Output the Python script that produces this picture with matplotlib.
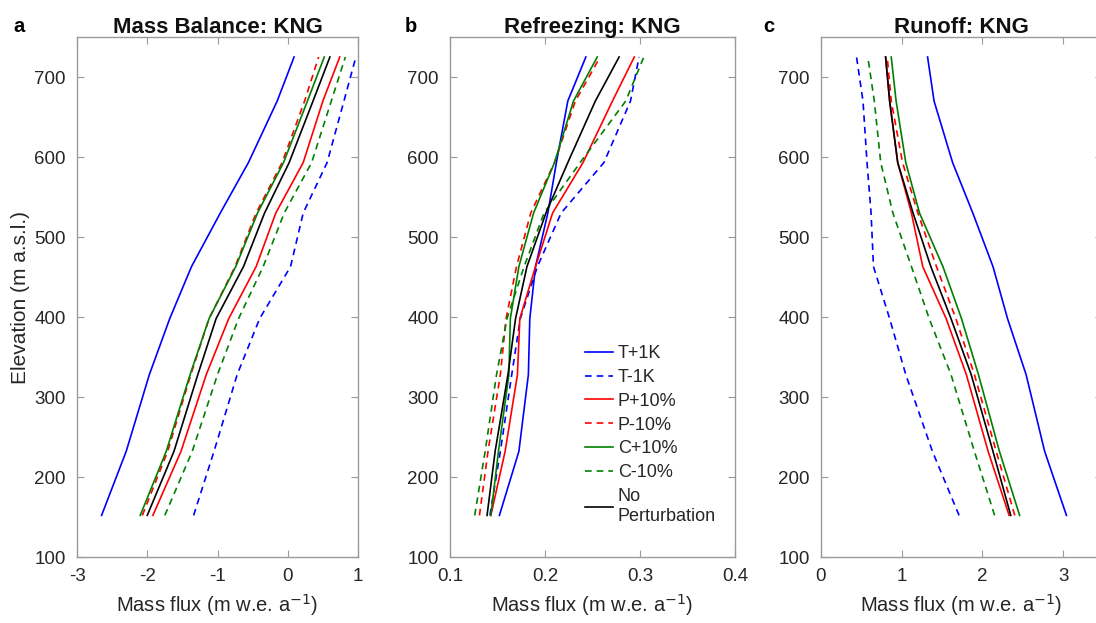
import numpy as np
import matplotlib
matplotlib.use("Agg")
import matplotlib.pyplot as plt

plt.rcParams['font.family'] = ['Liberation Sans', 'DejaVu Sans']

# elevation nodes (m a.s.l.)
elev = [152, 232, 328, 398, 463, 530, 593, 670, 725]

labels = ["T+1K", "T-1K", "P+10%", "P-10%", "C+10%", "C-10%", "No\nPerturbation"]
colors = ["#0000FF", "#0000FF", "#FF0000", "#FF0000", "#008000", "#008000", "#000000"]
dashed = [False, True, False, True, False, True, False]

# panel a: mass balance
mb_t_plus = [-2.65, -2.30, -1.97, -1.68, -1.37, -0.96, -0.56, -0.15, 0.09]
mb_t_minus = [-1.34, -1.05, -0.72, -0.40, 0.04, 0.22, 0.56, 0.80, 0.97]
mb_p_plus = [-1.92, -1.52, -1.16, -0.84, -0.45, -0.17, 0.22, 0.50, 0.74]
mb_p_minus = [-2.07, -1.71, -1.38, -1.12, -0.75, -0.45, -0.08, 0.24, 0.44]
mb_c_plus = [-2.10, -1.73, -1.39, -1.12, -0.74, -0.43, -0.06, 0.28, 0.52]
mb_c_minus = [-1.75, -1.36, -1.00, -0.70, -0.35, -0.05, 0.34, 0.62, 0.82]
mb_none = [-2.00, -1.62, -1.28, -1.02, -0.63, -0.33, 0.02, 0.36, 0.60]

# panel b: refreezing
rf_t_plus = [0.152, 0.1725, 0.1825, 0.184, 0.190, 0.203, 0.212, 0.224, 0.243]
rf_t_minus = [0.142, 0.153, 0.165, 0.174, 0.192, 0.217, 0.262, 0.290, 0.299]
rf_p_plus = [0.143, 0.158, 0.171, 0.1735, 0.190, 0.208, 0.240, 0.271, 0.294]
rf_p_minus = [0.131, 0.140, 0.153, 0.159, 0.170, 0.185, 0.210, 0.232, 0.258]
rf_c_plus = [0.143, 0.151, 0.162, 0.1635, 0.1725, 0.188, 0.210, 0.230, 0.255]
rf_c_minus = [0.126, 0.137, 0.149, 0.160, 0.178, 0.199, 0.237, 0.285, 0.304]
rf_none = [0.139, 0.1475, 0.161, 0.169, 0.181, 0.201, 0.224, 0.253, 0.278]

# panel c: runoff
ro_t_plus = [3.04, 2.77, 2.54, 2.31, 2.13, 1.88, 1.63, 1.40, 1.32]
ro_t_minus = [1.71, 1.38, 1.05, 0.85, 0.65, 0.62, 0.57, 0.52, 0.44]
ro_p_plus = [2.33, 2.07, 1.80, 1.55, 1.26, 1.12, 0.95, 0.85, 0.80]
ro_p_minus = [2.40, 2.17, 1.90, 1.67, 1.43, 1.20, 1.01, 0.87, 0.82]
ro_c_plus = [2.46, 2.21, 1.95, 1.74, 1.51, 1.22, 1.05, 0.93, 0.87]
ro_c_minus = [2.15, 1.90, 1.61, 1.34, 1.12, 0.89, 0.74, 0.66, 0.58]
ro_none = [2.35, 2.13, 1.86, 1.61, 1.36, 1.14, 0.95, 0.85, 0.80]

panels = [
    ("a", "Mass Balance: KNG", [mb_t_plus, mb_t_minus, mb_p_plus, mb_p_minus, mb_c_plus, mb_c_minus, mb_none],
     (-3, 1), [-3, -2, -1, 0, 1], ["-3", "-2", "-1", "0", "1"]),
    ("b", "Refreezing: KNG", [rf_t_plus, rf_t_minus, rf_p_plus, rf_p_minus, rf_c_plus, rf_c_minus, rf_none],
     (0.1, 0.4), [0.1, 0.2, 0.3, 0.4], ["0.1", "0.2", "0.3", "0.4"]),
    ("c", "Runoff: KNG", [ro_t_plus, ro_t_minus, ro_p_plus, ro_p_minus, ro_c_plus, ro_c_minus, ro_none],
     (0, 3.48), [0, 1, 2, 3], ["0", "1", "2", "3"]),
]

fig = plt.figure(figsize=(10.96, 6.23), dpi=100)
lefts = [77, 450, 821]
widths = [281, 285, 281]
letter_x = [13, 405, 763]
grey = "#9a9a9a"
txt = "#262626"

for i, (letter, title, series, xlim, xt, xtl) in enumerate(panels):
    ax = fig.add_axes([lefts[i] / 1096, (623 - 557) / 623, widths[i] / 1096, (557 - 37) / 623])
    for s, lab, c, d in zip(series, labels, colors, dashed):
        ls = (0, (4, 3)) if d else "-"
        ax.plot(s, elev, color=c, linestyle=ls, lw=1.2, label=lab)
    ax.set_xlim(*xlim)
    ax.set_ylim(100, 750)
    ax.set_xticks(xt)
    ax.set_xticklabels(xtl)
    ax.set_yticks(range(100, 701, 100))
    ax.tick_params(direction="in", top=True, right=True, length=5, width=0.8,
                   color=grey, labelcolor=txt, labelsize=13.5, pad=8)
    for sp in ax.spines.values():
        sp.set_color(grey)
        sp.set_linewidth(1.0)
    ax.set_title(title, fontsize=16, fontweight="bold", color="#111111", pad=3)
    ax.set_xlabel("Mass flux (m w.e. a$^{-1}$)", fontsize=14.5, color=txt, labelpad=5)
    if i == 0:
        ax.set_ylabel("Elevation (m a.s.l.)", fontsize=15, color=txt, labelpad=3)
    fig.text(letter_x[i] / 1096, 1 - 26 / 623, letter, fontsize=14.5, fontweight="bold",
             ha="left", va="center")
    if i == 1:
        ax.legend(loc="lower right", bbox_to_anchor=(1 - 12 / 285, 25 / 520), frameon=False,
                  fontsize=13, handlelength=1.55, handletextpad=0.28, labelspacing=0.38,
                  borderaxespad=0, labelcolor=txt)

fig.savefig("out.png", dpi=100)
